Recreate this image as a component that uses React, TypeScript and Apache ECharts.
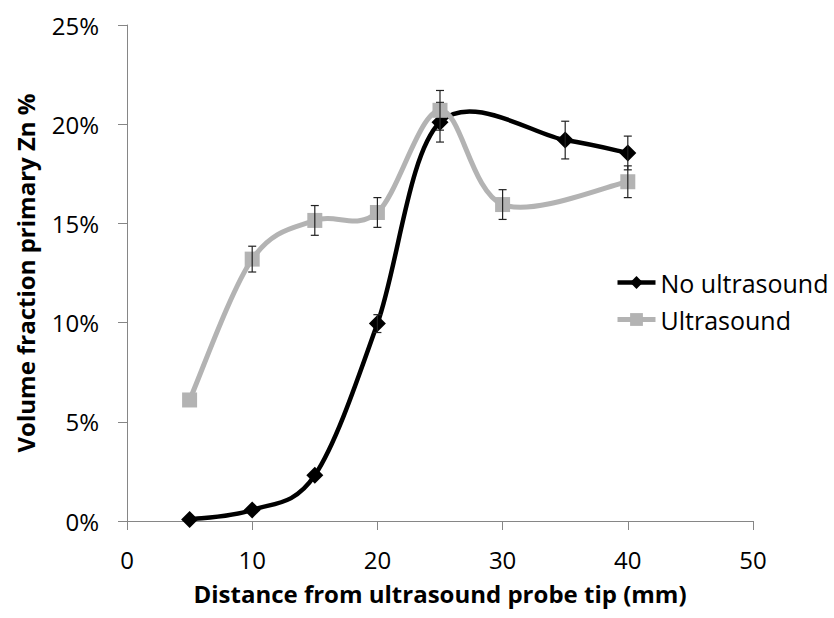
import React, { useEffect, useRef } from "react";
import * as echarts from "echarts";

const distances = [5, 10, 15, 20, 25, 30, 35, 40];
// null = no measurement at that distance
const noUltrasound: (number | null)[] = [0.08, 0.56, 2.3, 9.95, 20.1, null, 19.2, 18.55];
const noUltrasoundErr: (number | null)[] = [0, 0, 0, 0.45, 1.0, null, 0.95, 0.85];
const ultrasound: (number | null)[] = [6.1, 13.2, 15.15, 15.55, 20.7, 15.95, null, 17.1];
const ultrasoundErr: (number | null)[] = [0, 0.65, 0.75, 0.75, 1.0, 0.75, null, 0.8];
const yTicks = [0, 5, 10, 15, 20, 25];
const xTicks = [0, 10, 20, 30, 40, 50];

const FONT = "Open Sans";
const BLACK = "#000000";
const GREY = "#b3b3b3";

function pairs(vals: (number | null)[]) {
  const out: number[][] = [];
  distances.forEach((d, i) => {
    if (vals[i] !== null) out.push([d, vals[i] as number]);
  });
  return out;
}
function errs(vals: (number | null)[], e: (number | null)[]) {
  const out: number[][] = [];
  distances.forEach((d, i) => {
    if (vals[i] !== null && e[i]) {
      out.push([d, (vals[i] as number) - (e[i] as number), (vals[i] as number) + (e[i] as number)]);
    }
  });
  return out;
}

// Excel-like smoothed curve (Catmull-Rom style Bezier) drawn through the axis coordinates
function curveSeries(name: string, pts: number[][], color: string, width: number, z: number) {
  return {
    type: "custom",
    name: name + "_curve",
    z,
    silent: true,
    data: pts,
    encode: { x: 0, y: 1 },
    renderItem: (params: any, api: any) => {
      if (params.dataIndex !== 0) return null;
      const P = pts.map((p) => api.coord(p));
      const n = P.length;
      let d = `M${P[0][0]},${P[0][1]}`;
      for (let i = 0; i < n - 1; i++) {
        const p0 = P[Math.max(i - 1, 0)];
        const p1 = P[i];
        const p2 = P[i + 1];
        const p3 = P[Math.min(i + 2, n - 1)];
        const c1x = p1[0] + (p2[0] - p0[0]) / 6;
        const c1y = p1[1] + (p2[1] - p0[1]) / 6;
        const c2x = p2[0] - (p3[0] - p1[0]) / 6;
        const c2y = p2[1] - (p3[1] - p1[1]) / 6;
        d += ` C${c1x},${c1y} ${c2x},${c2y} ${p2[0]},${p2[1]}`;
      }
      return {
        type: "path",
        shape: { pathData: d },
        style: { stroke: color, lineWidth: width, fill: "none", lineJoin: "round", lineCap: "round" },
      };
    },
  };
}

function errorSeries(name: string, data: number[][], z: number) {
  return {
    type: "custom",
    name: name + "_err",
    z,
    silent: true,
    data,
    encode: { x: 0, y: [1, 2] },
    renderItem: (params: any, api: any) => {
      const x = api.value(0);
      const lo = api.coord([x, api.value(1)]);
      const hi = api.coord([x, api.value(2)]);
      const hw = 4;
      const style = { stroke: "#222", lineWidth: 1.2 };
      return {
        type: "group",
        children: [
          { type: "line", shape: { x1: lo[0], y1: lo[1], x2: hi[0], y2: hi[1] }, style },
          { type: "line", shape: { x1: lo[0] - hw, y1: lo[1], x2: lo[0] + hw, y2: lo[1] }, style },
          { type: "line", shape: { x1: hi[0] - hw, y1: hi[1], x2: hi[0] + hw, y2: hi[1] }, style },
        ],
      };
    },
  };
}

export default function App() {
  const ref = useRef<HTMLDivElement>(null);
  useEffect(() => {
    const chart = echarts.init(ref.current!, null, { renderer: "svg" });
    chart.setOption({
      animation: false,
      backgroundColor: "#ffffff",
      textStyle: { fontFamily: FONT },
      grid: { left: 127, right: 81, top: 25, bottom: 97 },
      legend: {
        orient: "vertical",
        left: 615,
        top: 270,
        padding: 0,
        itemWidth: 38,
        itemHeight: 16,
        itemGap: 12,
        data: [
          { name: "No ultrasound", lineStyle: { width: 4.5, color: BLACK, opacity: 1 } },
          { name: "Ultrasound", lineStyle: { width: 5, color: GREY, opacity: 1 } },
        ],
        textStyle: { fontFamily: FONT, fontSize: 25, lineHeight: 25, color: "#000" },
      },
      xAxis: {
        type: "value",
        min: 0,
        max: 50,
        interval: 10,
        name: "Distance from ultrasound probe tip (mm)",
        nameLocation: "middle",
        nameGap: 60,
        nameTextStyle: { fontFamily: FONT, fontSize: 24, fontWeight: "bold", color: "#000" },
        axisLine: { lineStyle: { color: "#868686", width: 1 } },
        axisTick: { show: true, length: 9, lineStyle: { color: "#868686" } },
        axisLabel: { fontSize: 24, color: "#000", margin: 26, formatter: (v: number) => (xTicks.includes(v) ? String(v) : "") },
        splitLine: { show: false },
      },
      yAxis: {
        type: "value",
        min: 0,
        max: 25,
        interval: 5,
        name: "Volume fraction primary Zn %",
        nameLocation: "middle",
        nameGap: 90,
        nameTextStyle: { fontFamily: FONT, fontSize: 24, fontWeight: "bold", color: "#000" },
        axisLine: { show: true, lineStyle: { color: "#868686", width: 1 } },
        axisTick: { show: true, length: 9, lineStyle: { color: "#868686" } },
        axisLabel: { fontSize: 24, color: "#000", margin: 28, formatter: (v: number) => (yTicks.includes(v) ? v + "%" : "") },
        splitLine: { show: false },
      },
      series: [
        curveSeries("No ultrasound", pairs(noUltrasound), BLACK, 4.5, 2),
        {
          name: "No ultrasound",
          type: "line",
          data: pairs(noUltrasound),
          symbol: "diamond",
          symbolSize: 17,
          z: 3,
          lineStyle: { color: BLACK, width: 0, opacity: 0 },
          itemStyle: { color: BLACK },
        },
        errorSeries("No ultrasound", errs(noUltrasound, noUltrasoundErr), 4),
        curveSeries("Ultrasound", pairs(ultrasound), GREY, 5, 5),
        {
          name: "Ultrasound",
          type: "line",
          data: pairs(ultrasound),
          symbol: "rect",
          symbolSize: 15,
          z: 6,
          lineStyle: { color: GREY, width: 0, opacity: 0 },
          itemStyle: { color: GREY },
        },
        errorSeries("Ultrasound", errs(ultrasound, ultrasoundErr), 7),
      ],
    });
    return () => chart.dispose();
  }, []);
  return (
    <div
      ref={ref}
      style={{ position: "fixed", left: 0, top: 0, width: 834, height: 618, background: "#fff" }}
    />
  );
}
